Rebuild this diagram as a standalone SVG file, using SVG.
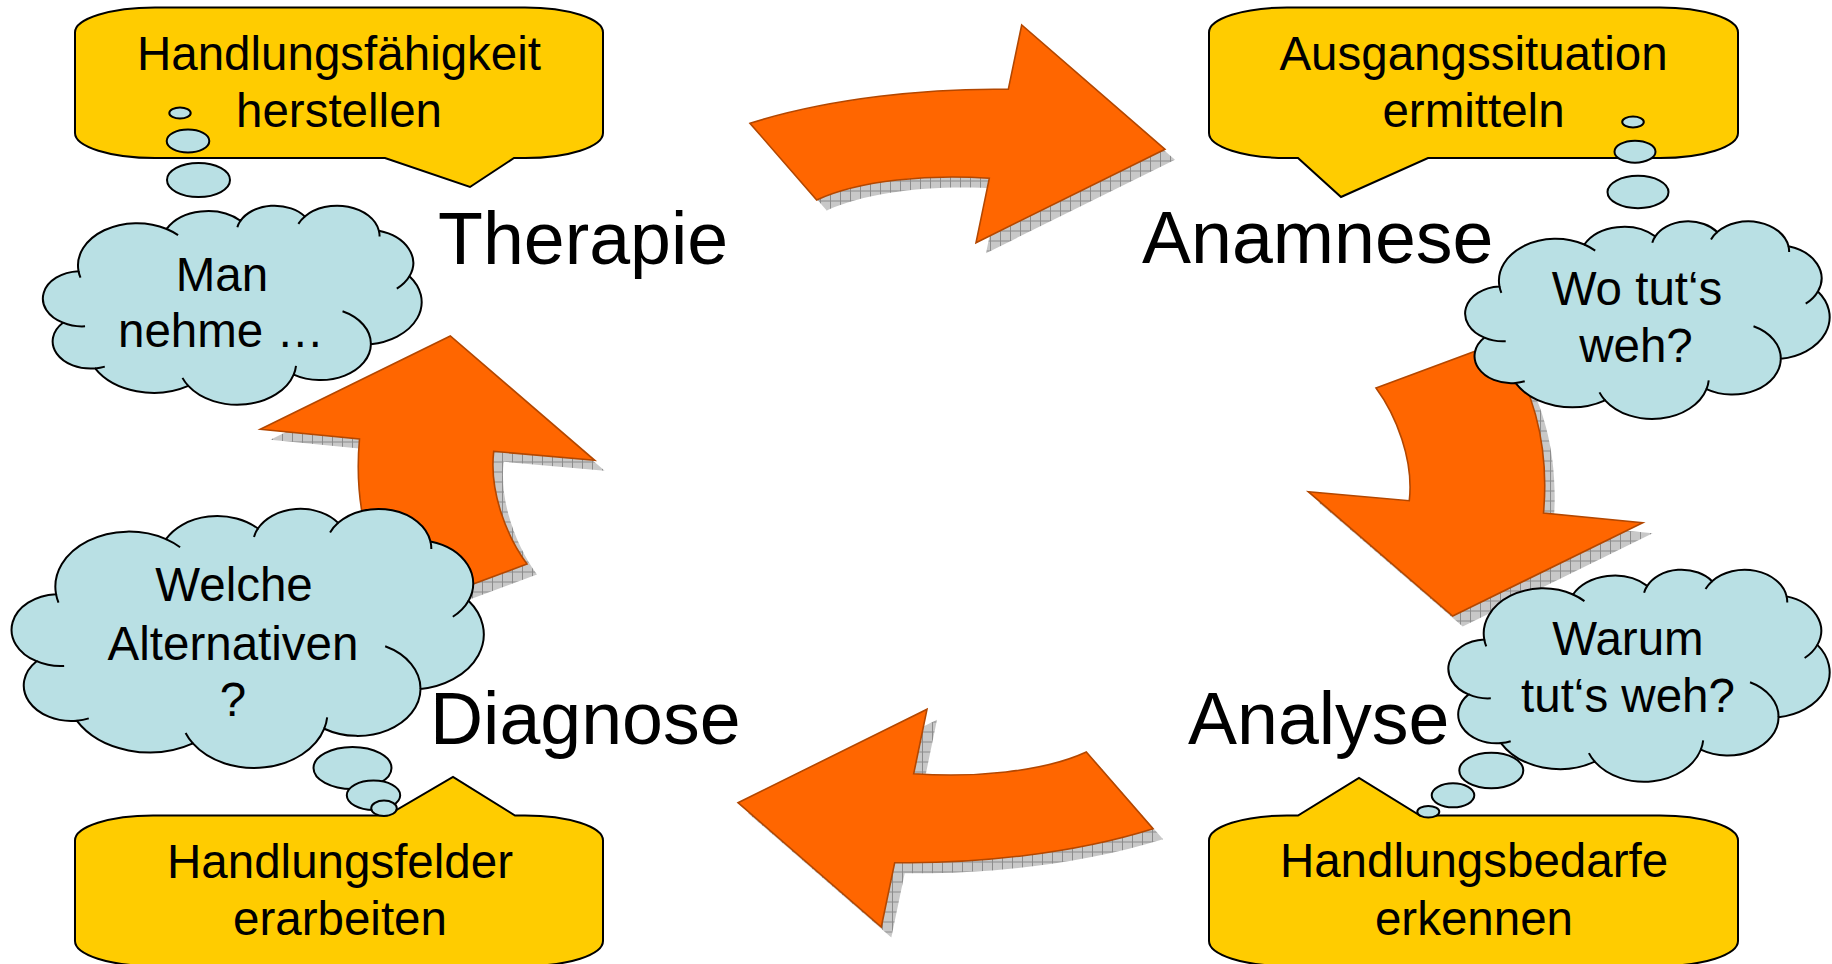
<svg xmlns="http://www.w3.org/2000/svg" xmlns:xlink="http://www.w3.org/1999/xlink" width="1832" height="964" viewBox="0 0 1832 964">
<style>
.callout{fill:#FFCC00;stroke:#000;stroke-width:2}
.cloud{fill:#B9E0E4;stroke:#000;stroke-width:2}
.bubble{fill:#B9E0E4;stroke:#000;stroke-width:2}
.arrow{fill:#FF6600;stroke:#B34700;stroke-width:1.6}
.shadow{fill:url(#hatch);stroke:none}
.t{font-family:'Liberation Sans',Arial,sans-serif;font-size:47.5px;text-anchor:middle;fill:#000}
.lbl{font-family:'Liberation Sans',Arial,sans-serif;font-size:73.5px;fill:#000}
</style>
<defs>
<pattern id="hatch" width="10" height="10" patternUnits="userSpaceOnUse">
<rect width="10" height="10" fill="#c8c8c8"/>
<path d="M0 0.5H10M0.5 0V10" stroke="#8c8c8c" stroke-width="1"/>
</pattern>
<path id="arrowTop" d="M750 123.3 C830 98 930 88 1008.3 89.3 L1021.7 25 L1165 149.3 L976 242.7 L989.3 178.3 C930 174 860 180 816.7 200 Z"/>
<path id="arrowRight" d="M1376 388 L1500 342 C1530 380 1550 440 1543.5 513 L1642.7 522.7 L1452.7 616 L1308.3 491.7 L1409.3 500.7 C1414 460 1396 415 1376 388 Z"/>
<g id="cloud">
<path vector-effect="non-scaling-stroke" d="M3900 14370 A6753 9190 0 0 1 14004 5200 A5333 7267 0 0 1 22456 3431 A4365 5945 0 0 1 29833 2481 A4857 6595 0 0 1 38317 5578 A5333 7273 0 0 1 41818 15462 A6775 9220 0 0 1 37402 30204 A5785 7867 0 0 1 28553 36815 A6752 9215 0 0 1 16479 39267 A7720 10543 0 0 1 5802 35473 A4360 5918 0 0 1 2112 25549 A4345 5945 0 0 1 3900 14370 Z"/>
<path vector-effect="non-scaling-stroke" fill="none" d="M4646 26346 A4345 5945 0 0 1 2112 25549 M6910 35092 A4360 5918 0 0 1 5802 35473 M16479 39267 A6752 9215 0 0 1 15810 37526 M28820 34905 A6752 9215 0 0 1 28553 36815 M34153 23070 A5785 7867 0 0 1 37402 30204 M41818 15462 A5333 7273 0 0 1 40369 18138 M38317 5578 A4857 6595 0 0 1 38394 6842 M29089 4096 A4857 6595 0 0 1 29833 2481 M22097 4821 A4365 5945 0 0 1 22456 3431 M14004 5200 A6753 9190 0 0 1 15304 6548 M4127 15789 A6753 9190 0 0 1 3900 14370"/>
</g>
</defs>

<g id="connectors">
<use href="#arrowTop" class="shadow" transform="translate(10,10.5)"/>
<use href="#arrowTop" class="arrow"/>
<use href="#arrowRight" class="shadow" transform="translate(10,10.5)"/>
<use href="#arrowRight" class="arrow"/>
<use href="#arrowTop" class="shadow" transform="translate(10,10.5) rotate(180 951.5 476)"/>
<use href="#arrowTop" class="arrow" transform="rotate(180 951.5 476)"/>
<use href="#arrowRight" class="shadow" transform="translate(10,10.5) rotate(180 951.5 476)"/>
<use href="#arrowRight" class="arrow" transform="rotate(180 951.5 476)"/>
</g>

<g id="callout-therapie">
<path class="callout" d="M155 7.5 H525 A78 25 0 0 1 603 32.5 V133 A78 25 0 0 1 525 158 H514 L470 187 L385 158 H155 A80 25 0 0 1 75 133 V32.5 A80 25 0 0 1 155 7.5 Z"/>
<text class="t" x="339" y="70">Handlungsfähigkeit</text>
<text class="t" x="339" y="127">herstellen</text>
</g>

<g id="callout-anamnese">
<path class="callout" d="M1287 7.5 H1660 A78 25 0 0 1 1738 32.5 V133 A78 25 0 0 1 1660 158 H1428 L1341 197 L1298 158 H1287 A78 25 0 0 1 1209 133 V32.5 A78 25 0 0 1 1287 7.5 Z"/>
<text class="t" x="1473.5" y="70">Ausgangssituation</text>
<text class="t" x="1473.5" y="127">ermitteln</text>
</g>

<g id="callout-diagnose">
<path class="callout" d="M153 815.5 H387 L453 777 L515 815.5 H525 A78 25 0 0 1 603 840.5 V941 A78 25 0 0 1 525 966 H153 A78 25 0 0 1 75 941 V840.5 A78 25 0 0 1 153 815.5 Z"/>
<text class="t" x="340" y="878">Handlungsfelder</text>
<text class="t" x="340" y="935">erarbeiten</text>
</g>

<g id="callout-analyse">
<path class="callout" d="M1287 815.5 H1298 L1359 778 L1420 815.5 H1660 A78 25 0 0 1 1738 840.5 V941 A78 25 0 0 1 1660 966 H1287 A78 25 0 0 1 1209 941 V840.5 A78 25 0 0 1 1287 815.5 Z"/>
<text class="t" x="1474" y="877">Handlungsbedarfe</text>
<text class="t" x="1474" y="935">erkennen</text>
</g>

<g id="cloud-therapie">
<ellipse class="bubble" cx="180" cy="113" rx="10.7" ry="5.6"/>
<ellipse class="bubble" cx="188" cy="141" rx="21.3" ry="11.5"/>
<ellipse class="bubble" cx="198.5" cy="180" rx="31.5" ry="17"/>
<use href="#cloud" class="cloud" transform="translate(44.5,205) scale(0.0087269,0.0046065)"/>
<text class="t" x="222" y="291">Man</text>
<text class="t" x="221" y="347">nehme …</text>
</g>

<g id="cloud-anamnese">
<ellipse class="bubble" cx="1633" cy="122" rx="10.8" ry="5.4"/>
<ellipse class="bubble" cx="1635" cy="151.7" rx="20.5" ry="11"/>
<ellipse class="bubble" cx="1638" cy="192" rx="30.5" ry="16.2"/>
<use href="#cloud" class="cloud" transform="translate(1466.7,220.7) scale(0.0083981,0.0045741)"/>
<text class="t" x="1637" y="305">Wo tut‘s</text>
<text class="t" x="1636" y="362">weh?</text>
</g>

<g id="cloud-diagnose">
<ellipse class="bubble" cx="352.5" cy="768" rx="39" ry="21"/>
<ellipse class="bubble" cx="373.5" cy="795.3" rx="26.7" ry="14.7"/>
<ellipse class="bubble" cx="384" cy="808.3" rx="12.8" ry="7.7"/>
<use href="#cloud" class="cloud" transform="translate(13.6,508) scale(0.0108796,0.0059954)"/>
<text class="t" x="234" y="601">Welche</text>
<text class="t" x="233" y="660">Alternativen</text>
<text class="t" x="233" y="716">?</text>
</g>

<g id="cloud-analyse">
<ellipse class="bubble" cx="1491.3" cy="770.5" rx="32" ry="17.8"/>
<ellipse class="bubble" cx="1453" cy="795.3" rx="21.3" ry="12"/>
<ellipse class="bubble" cx="1428.3" cy="811.8" rx="11" ry="5.8"/>
<use href="#cloud" class="cloud" transform="translate(1450,569) scale(0.0087847,0.0049074)"/>
<text class="t" x="1628" y="655">Warum</text>
<text class="t" x="1628" y="712">tut‘s weh?</text>
</g>

<g id="labels">
<text class="lbl" x="438" y="264">Therapie</text>
<text class="lbl" x="1142" y="263">Anamnese</text>
<text class="lbl" x="430" y="744">Diagnose</text>
<text class="lbl" x="1188" y="744">Analyse</text>
</g>
</svg>
